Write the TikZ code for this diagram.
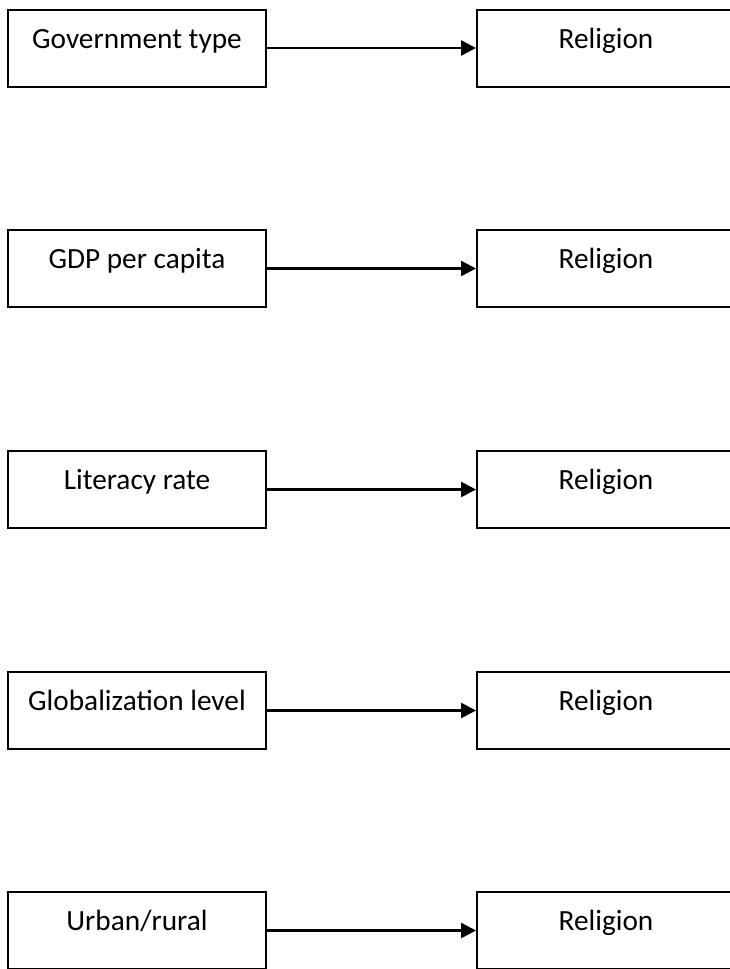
\documentclass[tikz,border=0pt]{standalone}
\usepackage{fontspec}
\setmainfont{Carlito}
\usetikzlibrary{arrows.meta}
\tikzset{
  box/.style={draw, line width=2pt, minimum width=258pt, minimum height=77pt, inner sep=0pt,
    text height=18pt, text depth=18pt, font=\fontsize{29.3}{33}\selectfont},
  link/.style={line width=2.5pt, -{Triangle[length=15pt,width=15pt]}}
}
\begin{document}
\begin{tikzpicture}[x=1pt,y=-1pt]
\useasboundingbox (0,0) rectangle (730,969);
\clip (0,0) rectangle (730,969);
\node[box] (l1) at (137,48) {Government type};
\node[box] (r1) at (606,48) {Religion};
\node[box] (l2) at (137,268.5) {GDP per capita};
\node[box] (r2) at (606,268.5) {Religion};
\node[box] (l3) at (137,489.5) {Literacy rate};
\node[box] (r3) at (606,489.5) {Religion};
\node[box] (l4) at (137,710.5) {Globalization level};
\node[box] (r4) at (606,710.5) {Religion};
\node[box] (l5) at (137,930.5) {Urban/rural};
\node[box] (r5) at (606,930.5) {Religion};
\draw[link] (l1) -- (r1);
\draw[link] (l2) -- (r2);
\draw[link] (l3) -- (r3);
\draw[link] (l4) -- (r4);
\draw[link] (l5) -- (r5);
\end{tikzpicture}
\end{document}
